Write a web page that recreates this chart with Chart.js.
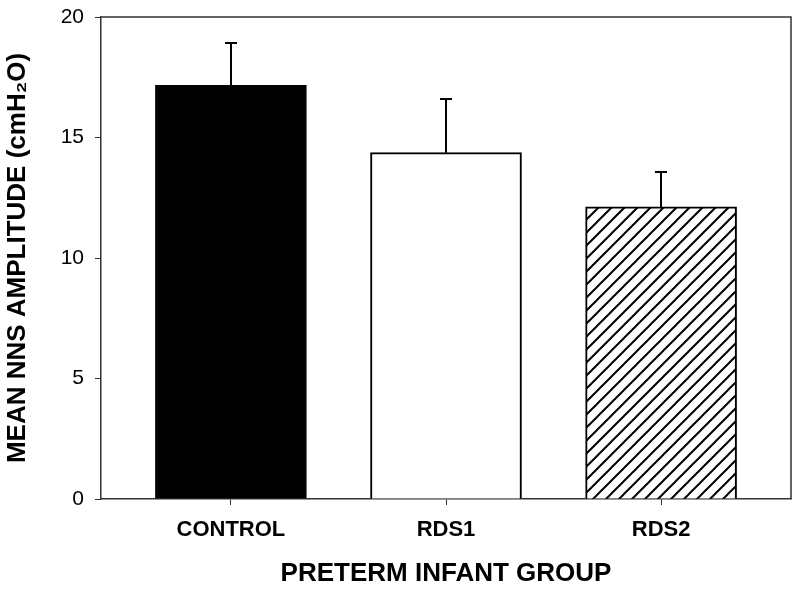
<!DOCTYPE html>
<html>
<head>
<meta charset="utf-8">
<script src="https://cdn.jsdelivr.net/npm/chart.js@4"></script>
<style>
    body { margin: 0; background: #fff; }
    #wrap { width: 800px; height: 592px; }
</style>
</head>
<body>
<div id="wrap"><canvas id="barChart" width="800" height="592"></canvas></div>
<script>
// values
var groups = ["CONTROL", "RDS1", "RDS2"];
var meanAmp = [17.16, 14.37, 12.12];
var errUp = [1.77, 2.21, 1.44];
var yTicks = [0, 5, 10, 15, 20];

var FONT = "'Liberation Sans', Arial, sans-serif";

function hatchPattern() {
    var s = 13;
    var c = document.createElement("canvas");
    c.width = s;
    c.height = s;
    var g = c.getContext("2d");
    g.fillStyle = "#fff";
    g.fillRect(0, 0, s, s);
    g.strokeStyle = "#000";
    g.lineWidth = 2;
    g.beginPath();
    g.moveTo(-2, s + 2); g.lineTo(s + 2, -2);
    g.moveTo(-2, 2); g.lineTo(2, -2);
    g.moveTo(s - 2, s + 2); g.lineTo(s + 2, s - 2);
    g.stroke();
    return g.createPattern(c, "repeat");
}

// upward error bars, drawn through the chart scales
var errorBars = {
    id: "errorBars",
    afterDatasetsDraw: function (chart) {
        var ctx = chart.ctx;
        var xs = chart.scales.x, ys = chart.scales.y;
        ctx.save();
        ctx.strokeStyle = "#000";
        ctx.lineWidth = 2;
        meanAmp.forEach(function (v, i) {
            var x = Math.round(xs.getPixelForValue(i));
            var y0 = ys.getPixelForValue(v);
            var y1 = Math.round(ys.getPixelForValue(v + errUp[i]));
            ctx.beginPath();
            ctx.moveTo(x, y0);
            ctx.lineTo(x, y1);
            ctx.moveTo(x - 6, y1);
            ctx.lineTo(x + 6, y1);
            ctx.stroke();
        });
        ctx.restore();
    }
};

// top and right side of the frame
var frame = {
    id: "frame",
    afterDraw: function (chart) {
        var a = chart.chartArea, ctx = chart.ctx;
        ctx.save();
        ctx.strokeStyle = "#333";
        ctx.lineWidth = 1.5;
        ctx.beginPath();
        ctx.moveTo(a.left, a.top);
        ctx.lineTo(a.right, a.top);
        ctx.lineTo(a.right, a.bottom);
        ctx.stroke();
        ctx.restore();
    }
};

var data = {
    datasets: [{
        data: meanAmp.map(function (v, i) { return { x: i, y: v }; }),
        backgroundColor: ["#000", "#fff", hatchPattern()],
        borderColor: "#000",
        borderWidth: 2,
        borderSkipped: "bottom",
        barThickness: 151
    }]
};

new Chart(document.getElementById("barChart").getContext("2d"), {
    type: "bar",
    data: data,
    options: {
        responsive: false,
        animation: false,
        layout: { padding: { top: 17, right: 9, left: 0, bottom: 0 } },
        plugins: { legend: { display: false }, tooltip: { enabled: false } },
        scales: {
            x: {
                type: "linear",
                offset: false,
                min: -0.604,
                max: 2.604,
                afterBuildTicks: function (scale) {
                    scale.ticks = groups.map(function (g, i) { return { value: i }; });
                },
                afterFit: function (scale) {
                    scale.height = 93;
                    scale.paddingLeft = 0;
                    scale.paddingRight = 0;
                },
                ticks: {
                    callback: function (v) { return groups[v]; },
                    color: "#000",
                    padding: 12,
                    maxRotation: 0,
                    font: { family: FONT, size: 22, weight: "bold" }
                },
                grid: { offset: false, drawOnChartArea: false, tickLength: 6, tickColor: "#333" },
                border: { color: "#333", width: 1.5 },
                title: {
                    display: true,
                    text: "PRETERM INFANT GROUP",
                    color: "#000",
                    padding: { top: 0, bottom: 3 },
                    font: { family: FONT, size: 26, weight: "bold" }
                }
            },
            y: {
                min: 0,
                max: 20,
                afterBuildTicks: function (scale) {
                    scale.ticks = yTicks.map(function (t) { return { value: t }; });
                },
                afterFit: function (scale) {
                    scale.width = 101;
                    scale.paddingTop = 0;
                    scale.paddingBottom = 0;
                },
                ticks: {
                    color: "#000",
                    padding: 11,
                    font: { family: FONT, size: 21 }
                },
                grid: { drawOnChartArea: false, tickLength: 6, tickColor: "#333" },
                border: { color: "#333", width: 1.5 },
                title: {
                    display: true,
                    text: "MEAN NNS AMPLITUDE (cmH\u2082O)",
                    color: "#000",
                    padding: { top: 2, bottom: 0 },
                    font: { family: FONT, size: 26, weight: "bold" }
                }
            }
        }
    },
    plugins: [errorBars, frame]
});
</script>
</body>
</html>
